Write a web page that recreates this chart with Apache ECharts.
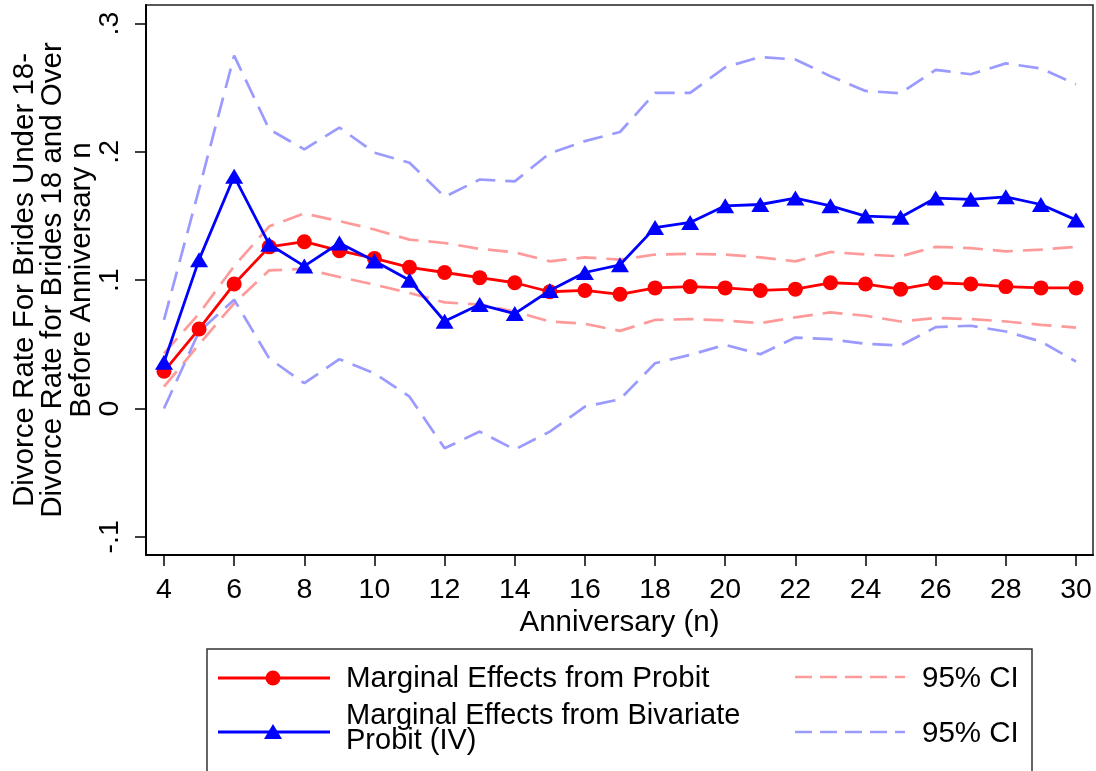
<!DOCTYPE html>
<html>
<head>
<meta charset="utf-8">
<script src="https://cdn.jsdelivr.net/npm/echarts@6/dist/echarts.min.js"></script>
<style>
html,body{margin:0;padding:0;background:#fff;}
#chart{width:1096px;height:771px;}
</style>
</head>
<body>
<div id="chart"></div>
<script>
// ---- data ----
const anniversaries = [4,5,6,7,8,9,10,11,12,13,14,15,16,17,18,19,20,21,22,23,24,25,26,27,28,29,30];
const probit      = [0.029,0.062,0.097,0.126,0.130,0.123,0.117,0.110,0.106,0.102,0.098,0.091,0.092,0.089,0.094,0.095,0.094,0.092,0.093,0.098,0.097,0.093,0.098,0.097,0.095,0.094,0.094];
const probitUpper = [0.043,0.074,0.111,0.142,0.152,0.146,0.1395,0.1316,0.129,0.1244,0.1217,0.1147,0.1178,0.116,0.120,0.1205,0.120,0.1178,0.1147,0.122,0.120,0.1186,0.126,0.125,0.1225,0.1238,0.126];
const probitLower = [0.017,0.050,0.082,0.1077,0.1088,0.1025,0.0965,0.090,0.0827,0.081,0.0756,0.0678,0.066,0.0605,0.069,0.0697,0.0686,0.0666,0.071,0.0749,0.0723,0.0678,0.0705,0.0697,0.0678,0.0652,0.0631];
const bivariate      = [0.036,0.116,0.181,0.128,0.111,0.129,0.115,0.100,0.068,0.081,0.074,0.092,0.106,0.112,0.141,0.145,0.158,0.159,0.164,0.158,0.150,0.149,0.164,0.163,0.165,0.159,0.147];
const bivariateUpper = [0.069,0.171,0.275,0.2176,0.202,0.219,0.1994,0.1916,0.165,0.1785,0.177,0.199,0.2084,0.2155,0.246,0.246,0.266,0.274,0.272,0.259,0.2475,0.2457,0.264,0.2605,0.269,0.265,0.2527];
const bivariateLower = [0.000,0.060,0.0848,0.039,0.0197,0.0384,0.0275,0.0092,-0.031,-0.018,-0.032,-0.018,0.0014,0.0072,0.0353,0.0418,0.0496,0.0423,0.0553,0.054,0.0504,0.049,0.0634,0.0645,0.060,0.0522,0.0366];
const xTicks = [4,6,8,10,12,14,16,18,20,22,24,26,28,30];
const yTicks = [-0.1,0,0.1,0.2,0.3];
const yTickLabels = ['-.1','0','.1','.2','.3'];
const xTitle = 'Anniversary (n)';
const yTitle = 'Divorce Rate For Brides Under 18-\nDivorce Rate for Brides 18 and Over\nBefore Anniversary n';
const legendProbit = 'Marginal Effects from Probit';
const legendBiv = 'Marginal Effects from Bivariate\nProbit (IV)';
const legendCI = '95% CI';

const FONT = '"Liberation Sans", Arial, sans-serif';
const pair = (ys) => anniversaries.map((x, i) => [x, ys[i]]);
const DASH = [20, 10];

const chart = echarts.init(document.getElementById('chart'), null, {renderer: 'canvas'});

function ciSeries(name, ys, color) {
  return {
    name: name, type: 'line', data: pair(ys), symbol: 'none', silent: true,
    lineStyle: {color: color, width: 2.7, type: DASH}, z: 2, animation: false
  };
}

const option = {
  backgroundColor: '#fff',
  animation: false,
  grid: {left: 146, right: 3, top: 5, bottom: 216, containLabel: false, outerBoundsMode: 'none',
         show: true, borderColor: '#222', borderWidth: 1.5, backgroundColor: '#fff'},
  xAxis: {
    type: 'value', min: 3.487, max: 30.485,
    name: xTitle, nameLocation: 'middle', nameGap: 53, nameMoveOverlap: false,
    nameTextStyle: {fontFamily: FONT, fontSize: 29.5, color: '#000'},
    axisLine: {show: true, onZero: false, lineStyle: {color: '#000', width: 2}},
    axisTick: {show: true, length: 11, customValues: xTicks, lineStyle: {color: '#000', width: 1.5}},
    axisLabel: {customValues: xTicks, fontFamily: FONT, fontSize: 28.5, color: '#000', margin: 21},
    splitLine: {show: false}
  },
  yAxis: {
    type: 'value', min: -0.1142, max: 0.3145,
    name: yTitle, nameLocation: 'middle', nameGap: 50, nameRotate: 90, nameMoveOverlap: false,
    nameTextStyle: {fontFamily: FONT, fontSize: 29.5, lineHeight: 28.5, color: '#000', align: 'center'},
    axisLine: {show: true, onZero: false, lineStyle: {color: '#000', width: 2}},
    axisTick: {show: true, length: 11, customValues: yTicks, lineStyle: {color: '#000', width: 1.5}},
    axisLabel: {
      customValues: yTicks, rotate: 90, fontFamily: FONT, fontSize: 28.5, color: '#000', margin: 21,
      formatter: function (v) {
        for (let i = 0; i < yTicks.length; i++) { if (Math.abs(yTicks[i] - v) < 1e-6) return yTickLabels[i]; }
        return '';
      }
    },
    splitLine: {show: false}
  },
  series: [
    ciSeries('Probit 95% CI upper', probitUpper, '#ff9a9a'),
    ciSeries('Probit 95% CI lower', probitLower, '#ff9a9a'),
    ciSeries('Bivariate 95% CI upper', bivariateUpper, '#9a9aff'),
    ciSeries('Bivariate 95% CI lower', bivariateLower, '#9a9aff'),
    {
      name: legendProbit, type: 'line', data: pair(probit), symbol: 'circle', symbolSize: 15,
      itemStyle: {color: '#ff0000'}, lineStyle: {color: '#ff0000', width: 2.8}, z: 3
    },
    {
      name: 'Marginal Effects from Bivariate Probit (IV)', type: 'line', data: pair(bivariate),
      symbol: 'triangle', symbolSize: [18, 15],
      itemStyle: {color: '#0000ff'}, lineStyle: {color: '#0000ff', width: 2.8}, z: 4
    }
  ],
  graphic: [
    {type: 'rect', shape: {x: 207, y: 649, width: 825, height: 140}, style: {fill: '#fff', stroke: '#333', lineWidth: 1.5}, z: 10},
    {type: 'line', shape: {x1: 218, y1: 678, x2: 330, y2: 678}, style: {stroke: '#ff0000', lineWidth: 2.8}, z: 11},
    {type: 'circle', shape: {cx: 273, cy: 678, r: 7.5}, style: {fill: '#ff0000'}, z: 12},
    {type: 'text', x: 346, y: 679, style: {text: legendProbit, fontFamily: FONT, fontSize: 29.5, fill: '#000', verticalAlign: 'middle'}, z: 11},
    {type: 'line', shape: {x1: 218, y1: 732, x2: 330, y2: 732}, style: {stroke: '#0000ff', lineWidth: 2.8}, z: 11},
    {type: 'polygon', shape: {points: [[264, 739], [282, 739], [273, 724]]}, style: {fill: '#0000ff'}, z: 12},
    {type: 'text', x: 346, y: 728, style: {text: legendBiv, fontFamily: FONT, fontSize: 29, lineHeight: 25, fill: '#000', verticalAlign: 'middle'}, z: 11},
    {type: 'line', shape: {x1: 795, y1: 677, x2: 905, y2: 677}, style: {stroke: '#ff9a9a', lineWidth: 2.7, lineDash: [17, 8]}, z: 11},
    {type: 'text', x: 922, y: 679, style: {text: legendCI, fontFamily: FONT, fontSize: 29.5, fill: '#000', verticalAlign: 'middle'}, z: 11},
    {type: 'line', shape: {x1: 795, y1: 732, x2: 905, y2: 732}, style: {stroke: '#9a9aff', lineWidth: 2.7, lineDash: [17, 8]}, z: 11},
    {type: 'text', x: 922, y: 734, style: {text: legendCI, fontFamily: FONT, fontSize: 29.5, fill: '#000', verticalAlign: 'middle'}, z: 11}
  ]
};
chart.setOption(option);
</script>
</body>
</html>
